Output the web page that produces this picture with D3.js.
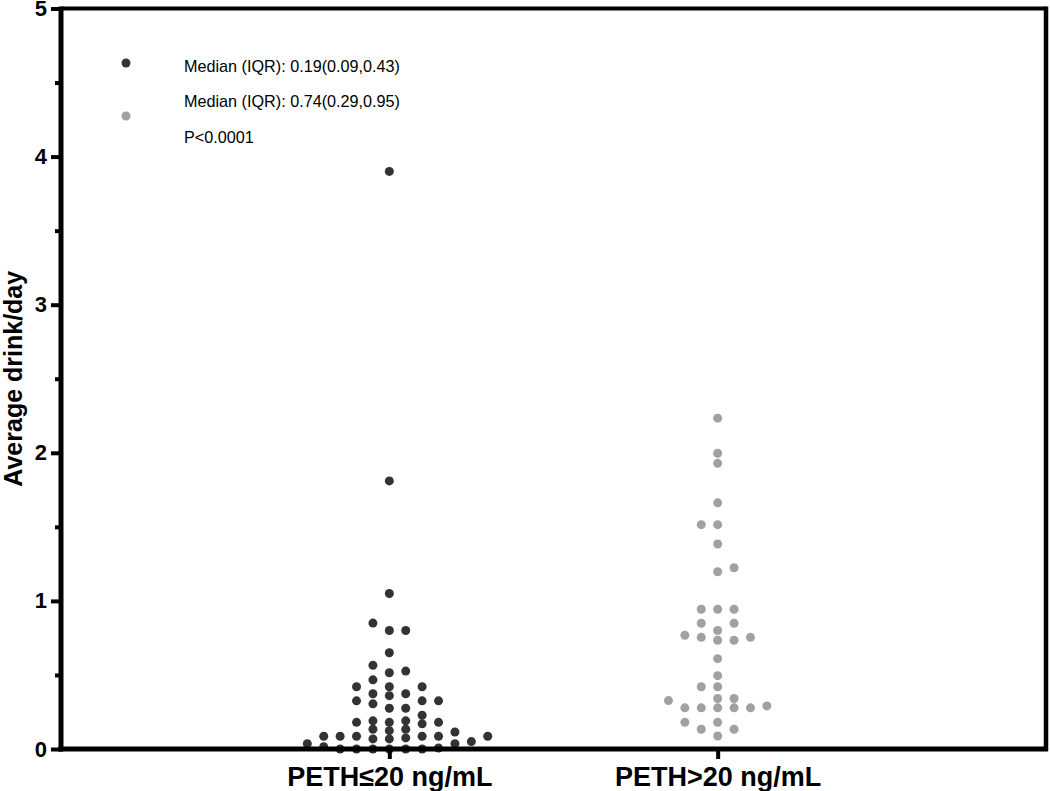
<!DOCTYPE html>
<html>
<head>
<meta charset="utf-8">
<script src="https://cdn.jsdelivr.net/npm/d3@7"></script>
<style>
  html, body { margin: 0; padding: 0; background: #fff; }
  svg { display: block; }
</style>
</head>
<body>
<svg id="chart" width="1050" height="791"></svg>
<script>
// ---------------- DATA ----------------
const categories = ["PETH\u226420 ng/mL", "PETH>20 ng/mL"];

const lowValues = [
  0, 0, 0, 0, 0, 0, 0.007, 0.016, 0.036, 0.036, 0.05,
  0.068, 0.068, 0.075, 0.086, 0.086, 0.086, 0.086, 0.086, 0.086,
  0.115, 0.124, 0.133, 0.133, 0.17, 0.18, 0.18, 0.18, 0.19, 0.19,
  0.228, 0.275, 0.275, 0.305, 0.325, 0.325, 0.325, 0.36, 0.373, 0.373,
  0.42, 0.42, 0.42, 0.467, 0.515, 0.526, 0.565, 0.65, 0.80, 0.80, 0.85,
  1.05, 1.81, 3.90
];

const highValues = [
  0.088, 0.133, 0.133, 0.18, 0.18, 0.278, 0.278, 0.278, 0.278, 0.278, 0.291,
  0.327, 0.341, 0.341, 0.42, 0.42, 0.495, 0.61, 0.734, 0.734, 0.754, 0.754,
  0.768, 0.80, 0.849, 0.849, 0.944, 0.944, 0.944, 1.197, 1.224, 1.384,
  1.515, 1.515, 1.662, 1.929, 1.997, 2.234
];

const legendLabels = [
  "Median (IQR): 0.19(0.09,0.43)",
  "Median (IQR): 0.74(0.29,0.95)",
  "P<0.0001"
];

const yTicks = [0, 1, 2, 3, 4, 5];
const yMinorTicks = [0.5, 1.5, 2.5, 3.5, 4.5];
const yTitle = "Average drink/day";

const colors = ["#333333", "#a0a0a6"];

(function () {
// ---------------- LAYOUT ----------------
const svg = d3.select("#chart");
const pLeft = 61, pRight = 1046, pTop = 8.5, pBottom = 749;

const x = d3.scalePoint().domain(categories).range([pLeft, pRight]).padding(1);
const y = d3.scaleLinear().domain([0, 5]).range([pBottom, pTop]);

const r = 4.5;
const hStep = 8.2;      // half column spacing
const colSep = 16.4;    // minimum horizontal separation
const vSep = 8.2;       // minimum vertical separation

function swarm(values) {
  const sorted = values.slice().sort((a, b) => a - b);
  const placed = [];
  let flip = false;
  sorted.forEach(v => {
    const py = y(v);
    for (let k = 0; k < 40; k++) {
      const cands = k === 0 ? [0] : (flip ? [k, -k] : [-k, k]);
      let chosen = null;
      for (const c of cands) {
        const px = c * hStep;
        const hit = placed.some(p => Math.abs(p.dx - px) < colSep - 0.01 && Math.abs(p.py - py) < vSep);
        if (!hit) { chosen = c; break; }
      }
      if (chosen !== null) {
        placed.push({ v, py, dx: chosen * hStep });
        if (chosen !== 0) flip = !flip;
        break;
      }
    }
  });
  return placed;
}

const groups = [lowValues, highValues];

groups.forEach((vals, i) => {
  const pts = swarm(vals);
  svg.append("g").selectAll("circle").data(pts).join("circle")
    .attr("cx", d => x(categories[i]) + d.dx)
    .attr("cy", d => d.py)
    .attr("r", r)
    .attr("fill", colors[i]);
});

// frame top & right
svg.append("line").attr("x1", pLeft).attr("x2", pRight).attr("y1", pTop).attr("y2", pTop)
  .attr("stroke", "#000").attr("stroke-width", 4);
svg.append("line").attr("x1", pRight).attr("x2", pRight).attr("y1", pTop - 2).attr("y2", pBottom + 2)
  .attr("stroke", "#000").attr("stroke-width", 4.5);

// Y axis
const yAxis = svg.append("g").attr("transform", `translate(${pLeft},0)`)
  .call(d3.axisLeft(y).tickValues(yTicks).tickSize(10).tickPadding(4).tickFormat(d3.format("d")));
yAxis.select(".domain").remove();
yAxis.selectAll(".tick line").attr("stroke", "#000").attr("stroke-width", 4);
yAxis.selectAll(".tick text")
  .attr("font-family", "Liberation Sans, Arial, sans-serif")
  .attr("font-weight", "bold").attr("font-size", 22).attr("fill", "#000");

const yMinor = svg.append("g").attr("transform", `translate(${pLeft},0)`)
  .call(d3.axisLeft(y).tickValues(yMinorTicks).tickSize(6).tickFormat(""));
yMinor.select(".domain").remove();
yMinor.selectAll(".tick line").attr("stroke", "#000").attr("stroke-width", 4);

svg.append("line").attr("x1", pLeft).attr("x2", pLeft).attr("y1", pTop - 2).attr("y2", pBottom + 2.5)
  .attr("stroke", "#000").attr("stroke-width", 5);

// X axis
const xAxis = svg.append("g").attr("transform", `translate(0,${pBottom})`)
  .call(d3.axisBottom(x).tickSize(10).tickPadding(8));
xAxis.select(".domain").remove();
xAxis.selectAll(".tick line").attr("stroke", "#000").attr("stroke-width", 4);
xAxis.selectAll(".tick text")
  .attr("font-family", "Liberation Sans, Arial, sans-serif")
  .attr("font-weight", "bold").attr("font-size", 27).attr("fill", "#000");

svg.append("line").attr("x1", pLeft - 2.5).attr("x2", pRight + 2).attr("y1", pBottom).attr("y2", pBottom)
  .attr("stroke", "#000").attr("stroke-width", 5);

// Y title
svg.append("text")
  .attr("transform", `translate(22,${(y(0) + y(5)) / 2}) rotate(-90)`)
  .attr("text-anchor", "middle")
  .attr("font-family", "Liberation Sans, Arial, sans-serif")
  .attr("font-weight", "bold").attr("font-size", 25)
  .text(yTitle);

// Legend
const legY = [63, 116];
legY.forEach((ly, i) => {
  svg.append("circle").attr("cx", 126).attr("cy", ly).attr("r", r).attr("fill", colors[i]);
});
const textY = [72, 107, 143];
legendLabels.forEach((t, i) => {
  svg.append("text").attr("x", 184).attr("y", textY[i])
    .attr("font-family", "Liberation Sans, Arial, sans-serif")
    .attr("font-size", 16.2).attr("fill", "#000")
    .text(t);
});
})();
</script>
</body>
</html>
